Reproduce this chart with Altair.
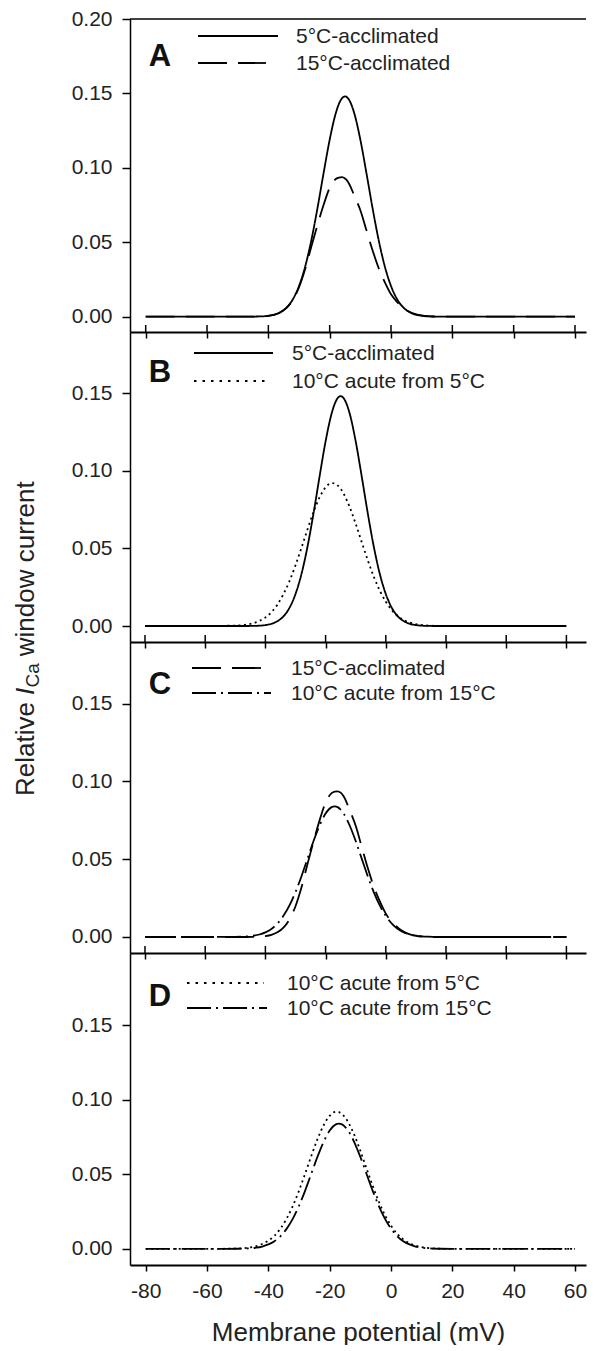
import altair as alt
import pandas as pd

# ---------------- data ----------------
X_MV = [-80, -60, -50, -48, -46, -44, -42, -40, -38, -36, -34, -32, -30, -28, -26, -24,
        -22, -20, -18, -17, -16, -15, -14, -12, -10, -8, -6, -4, -2, 0, 2, 4, 6, 8,
        10, 12, 14, 16, 20, 30, 45, 60]

ACCL_5C = [0, 0, 0, 0, 0, 0.0001, 0.0002, 0.0006, 0.0014, 0.0031, 0.0062, 0.0117, 0.0206,
           0.0336, 0.0512, 0.0727, 0.0963, 0.1189, 0.1368, 0.1429, 0.1467, 0.1480, 0.1467,
           0.1368, 0.1189, 0.0963, 0.0727, 0.0512, 0.0336, 0.0206, 0.0117, 0.0062, 0.0031,
           0.0014, 0.0006, 0.0002, 0.0001, 0, 0, 0, 0, 0]

ACCL_15C = [0, 0, 0, 0, 0, 0.0001, 0.0002, 0.0006, 0.0014, 0.0030, 0.0060, 0.0113, 0.0198,
            0.0320, 0.0470, 0.0615, 0.0750, 0.0865, 0.0925, 0.0935, 0.0937, 0.0928, 0.0905,
            0.0815, 0.0715, 0.0580, 0.0445, 0.0325, 0.0230, 0.0150, 0.0098, 0.0060, 0.0033,
            0.0017, 0.0008, 0.0003, 0.0001, 0, 0, 0, 0, 0]

ACUTE_FROM_5C = [0, 0, 0.0003, 0.0005, 0.0010, 0.0018, 0.0033, 0.0055, 0.0089, 0.0138, 0.0205,
                 0.0289, 0.0391, 0.0505, 0.0623, 0.0735, 0.0828, 0.0893, 0.0920, 0.0917,
                 0.0905, 0.0883, 0.0851, 0.0766, 0.0658, 0.0540, 0.0424, 0.0318, 0.0228,
                 0.0156, 0.0102, 0.0064, 0.0038, 0.0022, 0.0012, 0.0006, 0.0003, 0.0001,
                 0, 0, 0, 0]

ACUTE_FROM_15C = [0, 0, 0.0001, 0.0002, 0.0004, 0.0008, 0.0016, 0.0030, 0.0052, 0.0086, 0.0136,
                  0.0203, 0.0289, 0.0391, 0.0504, 0.0617, 0.0717, 0.0794, 0.0835, 0.0840,
                  0.0835, 0.0819, 0.0794, 0.0717, 0.0617, 0.0504, 0.0391, 0.0289, 0.0203,
                  0.0136, 0.0086, 0.0052, 0.0030, 0.0016, 0.0008, 0.0004, 0.0002, 0.0001,
                  0, 0, 0, 0]

NAMES = ["5°C-acclimated", "15°C-acclimated", "10°C acute from 5°C", "10°C acute from 15°C"]
SERIES = {NAMES[0]: ACCL_5C, NAMES[1]: ACCL_15C, NAMES[2]: ACUTE_FROM_5C, NAMES[3]: ACUTE_FROM_15C}

X_TICKS = [-80, -60, -40, -20, 0, 20, 40, 60]
Y_TICKS_TOP = [0.0, 0.05, 0.10, 0.15, 0.20]
Y_TICKS = [0.0, 0.05, 0.10, 0.15]

PANELS = [
    # letter, series pair, height, x-domain, y-domain, y ticks
    ("A", [NAMES[0], NAMES[1]], 313, [-85.12, 63.59], [-0.0103, 0.2000], Y_TICKS_TOP),
    ("B", [NAMES[0], NAMES[2]], 310, [-84.98, 66.51], [-0.0103, 0.1893], Y_TICKS),
    ("C", [NAMES[1], NAMES[3]], 311, [-84.98, 66.51], [-0.0103, 0.1897], Y_TICKS),
    ("D", [NAMES[2], NAMES[3]], 312, [-85.12, 63.59], [-0.0108, 0.1985], Y_TICKS),
]

# ---------------- styling ----------------
FONT = "Liberation Sans"
INK = "#222222"
W = 456
DASH = {
    NAMES[0]: [1, 0],
    NAMES[1]: [29, 11],
    NAMES[2]: [2, 3.5],
    NAMES[3]: [24, 5, 2, 5],
}
LEG_DASH = {
    NAMES[0]: [1, 0],
    NAMES[1]: [29, 11],
    NAMES[2]: [2.5, 6],
    NAMES[3]: [24, 5, 2, 5],
}
# legend layout per panel: (x0, x1 line 1, x1 line 2, y1, y2, text x, letter baseline y)
LEG = {
    "A": (68, 148, 136, 17, 44, 166, 47),
    "B": (64, 143, 139, 21, 49, 162, 50),
    "C": (62, 131, 141, 26, 51, 161, 52),
    "D": (57, 134, 137, 30, 55, 157, 53),
}

one = pd.DataFrame({"a": [0]})


def panel(letter, pair, H, xdom, ydom, yticks, bottom):
    xscale = alt.Scale(domain=xdom, nice=False, zero=False)
    yscale = alt.Scale(domain=ydom, nice=False, zero=False)
    xaxis = alt.Axis(
        values=X_TICKS, orient="bottom", grid=False, domainColor="black", domainWidth=2,
        tickColor="black", tickWidth=1.5, tickSize=6, labels=bottom, labelFont=FONT,
        labelFontSize=21, labelColor=INK, labelPadding=9, labelExpr="'' + datum.value",
        title="Membrane potential (mV)" if bottom else None,
        titleFont=FONT, titleFontSize=26, titleFontWeight="normal", titleColor=INK,
        titlePadding=18,
    )
    yaxis = alt.Axis(
        values=yticks, format=".2f", grid=False, domainColor="black", domainWidth=1.5,
        tickColor="black", tickWidth=1.5, tickSize=8, labelFont=FONT, labelFontSize=21,
        labelColor=INK, labelPadding=10, title=None,
    )
    layers = []
    for name in pair:
        df = pd.DataFrame({"x": X_MV, "y": SERIES[name]})
        layers.append(
            alt.Chart(df).mark_line(interpolate="monotone", color="black", strokeWidth=1.8,
                                    strokeDash=DASH[name])
            .encode(x=alt.X("x:Q", scale=xscale, axis=xaxis),
                    y=alt.Y("y:Q", scale=yscale, axis=yaxis))
        )
    # crossing (inner) part of the x ticks at panel boundaries
    if not bottom:
        layers.append(
            alt.Chart(pd.DataFrame({"x": X_TICKS})).mark_rule(color="black", strokeWidth=1.5)
            .encode(x=alt.X("x:Q", scale=xscale, axis=xaxis), y=alt.value(H - 7), y2=alt.value(H))
        )
    if letter == "A":
        layers.append(
            alt.Chart(one).mark_rule(color="black", strokeWidth=1.5)
            .encode(x=alt.value(0), x2=alt.value(W), y=alt.value(0))
        )
    x0, x1a, x1b, y1, y2, tx, lb = LEG[letter]
    for name, x1, yy in [(pair[0], x1a, y1), (pair[1], x1b, y2)]:
        layers.append(
            alt.Chart(one).mark_rule(color="black", strokeWidth=1.8, strokeDash=LEG_DASH[name])
            .encode(x=alt.value(x0), x2=alt.value(x1), y=alt.value(yy))
        )
        layers.append(
            alt.Chart(one).mark_text(text=name, font=FONT, fontSize=21, color=INK, align="left",
                                     baseline="middle")
            .encode(x=alt.value(tx), y=alt.value(yy + 1))
        )
    layers.append(
        alt.Chart(one).mark_text(text=letter, font=FONT, fontSize=31, fontWeight="bold",
                                 color="#111111", align="center", baseline="alphabetic")
        .encode(x=alt.value(30), y=alt.value(lb))
    )
    if letter == "C":
        # shared y-axis title: Relative I_Ca window current (rotated)
        layers.append(
            alt.Chart(one).mark_rule(color="white", strokeWidth=0.5)
            .encode(x=alt.value(-123), y=alt.value(0), y2=alt.value(1))
        )
        pieces = [
            ("Relative", 26, "normal", -96, 154),
            ("I", 26, "italic", -96, 52.9),
            ("Ca", 19, "normal", -91, 45.5),
            ("window current", 26, "normal", -96, 14.2),
        ]
        for txt, fs, style, px, py in pieces:
            layers.append(
                alt.Chart(one).mark_text(text=txt, font=FONT, fontSize=fs, fontStyle=style,
                                         color=INK, angle=270, align="left",
                                         baseline="alphabetic")
                .encode(x=alt.value(px), y=alt.value(py))
            )
    return alt.layer(*layers).properties(width=W, height=H)


charts = [panel(l, p, h, xd, yd, yt, l == "D") for (l, p, h, xd, yd, yt) in PANELS]

chart = (
    alt.vconcat(*charts, spacing=0, bounds="flush")
    .properties(padding={"left": -2, "top": 0, "right": 0, "bottom": 0})
    .configure_view(stroke=None)
)

chart.save("out.html", embed_options={"renderer": "svg", "actions": False})
